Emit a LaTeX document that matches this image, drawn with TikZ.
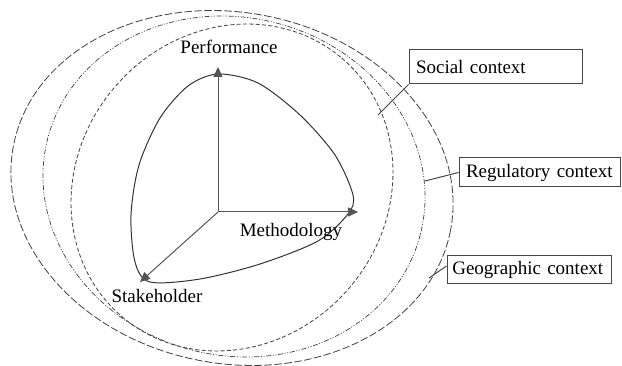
\documentclass[tikz,border=0pt]{standalone}
\usepackage{fontspec}
\setmainfont{Liberation Serif}
\usetikzlibrary{arrows.meta,positioning}
\definecolor{ctxgrey}{RGB}{70,70,70}
\definecolor{axisgrey}{RGB}{85,85,85}

\begin{document}
\begin{tikzpicture}[
    x=0.6pt, y=-0.6pt,
    ctxbox/.style={draw=ctxgrey, line width=0.6pt, inner xsep=4.2pt, inner ysep=0pt,
        align=left, font=\fontsize{11.4}{13}\selectfont},
    axlabel/.style={font=\fontsize{11.4}{13}\selectfont, inner sep=0pt},
    socialring/.style={ctxgrey, line width=0.5pt, dash pattern=on 2.4pt off 1.4pt},
    regring/.style={ctxgrey, line width=0.45pt,
        dash pattern=on 3pt off 1pt on 0.6pt off 1pt on 0.6pt off 1pt},
    georing/.style={ctxgrey, line width=0.5pt, dash pattern=on 4.5pt off 1.5pt},
    axisarrow/.style={axisgrey, line width=0.6pt, -{Triangle[length=6pt,width=5.5pt]}},
    leader/.style={ctxgrey, line width=0.6pt}
]
\useasboundingbox (0,0) rectangle (622,366);

% context rings
\draw[georing, rotate around={-11:(232,188)}] (232,188) ellipse [x radius=222.6, y radius=175.5];
\draw[regring, rotate around={-14.5:(234,186.5)}] (234,186.5) ellipse [x radius=192.4, y radius=168.9];
\draw[socialring, rotate around={49.7:(232,187.5)}] (232,187.5) ellipse [x radius=169.7, y radius=154.4];

% performance shape
\draw[black!80, line width=0.6pt] plot[smooth cycle] coordinates {(218,74) (258,83)
    (300,115) (335,155) (353,195) (348,214) (318,241) (260,264) (200,279) (150,282)
    (135,262) (131,215) (139,165) (160,118) (188,86)};

% axes
\coordinate (orig) at (218,212);
\coordinate (ptip) at (218,67);
\coordinate (mtip) at (358,212);
\coordinate (stip) at (140,282);
\draw[axisarrow] (orig) -- (ptip);
\draw[axisarrow] (orig) -- (mtip);
\draw[axisarrow] (orig) -- (stip);
\node[axlabel] (perf) at (229,47) {Performance};
\node[axlabel] (meth) at (291,232) {Methodology};
\node[axlabel] (stak) at (157,296) {Stakeholder};

% context boxes
\node[ctxbox, text width=95.4pt, minimum height=20.4pt] (social) at (495.5,67) {Social context};
\node[ctxbox, text width=88.2pt, minimum height=17.4pt] (reg) at (539.5,172.5) {Regulatory context};
\node[ctxbox, inner xsep=3.2pt, text width=92pt, minimum height=16.8pt] (geo) at (529,270) {Geographic context};

\coordinate (socpt) at (378,115);
\coordinate (regpt) at (425,181);
\coordinate (geopt) at (429,278);
\draw[leader] (social.south west) -- (socpt);
\draw[leader] (reg.west) -- (regpt);
\draw[leader] ([yshift=2.4pt]geo.west) -- (geopt);
\end{tikzpicture}
\end{document}
